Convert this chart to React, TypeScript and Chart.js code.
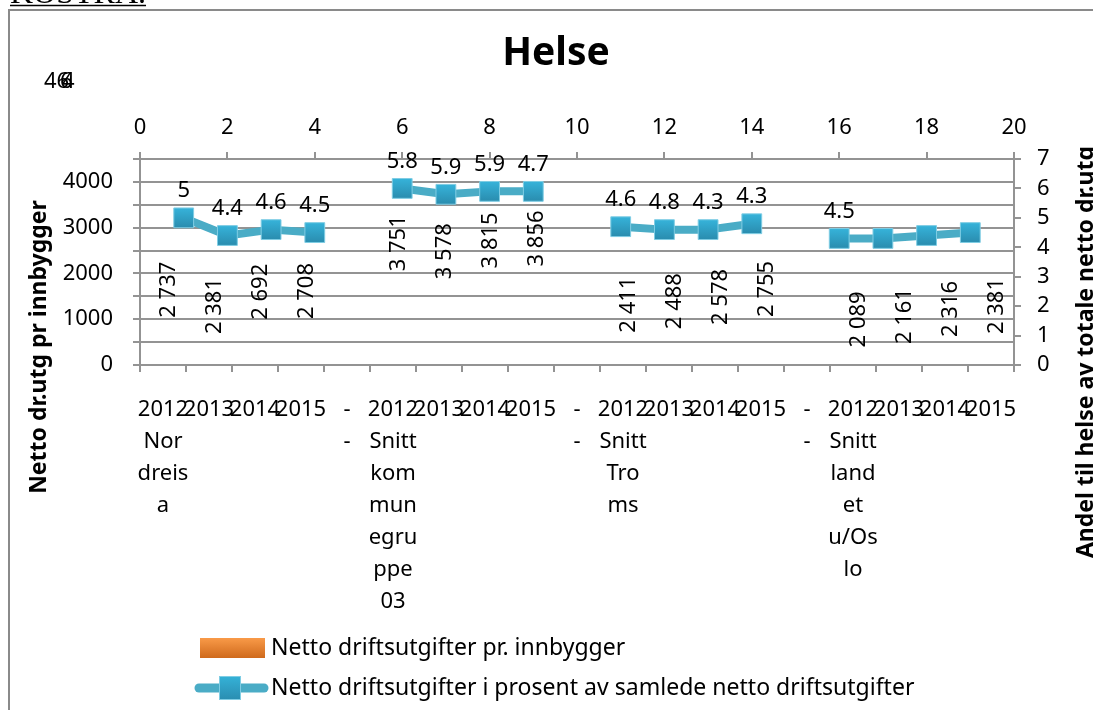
import React, { useEffect, useRef } from "react";
import { Chart, registerables } from "chart.js";

Chart.register(...registerables);

// ---------- data ----------
const categories: string[][] = [
  ["2012", "Nor", "dreis", "a"], ["2013"], ["2014"], ["2015"], ["-", "-"],
  ["2012", "Snitt", "kom", "mun", "egru", "ppe", "03"], ["2013"], ["2014"], ["2015"], ["-", "-"],
  ["2012", "Snitt", "Tro", "ms"], ["2013"], ["2014"], ["2015"], ["-", "-"],
  ["2012", "Snitt", "land", "et", "u/Os", "lo"], ["2013"], ["2014"], ["2015"],
];
const perCapita: (number | null)[] = [
  2737, 2381, 2692, 2708, null,
  3751, 3578, 3815, 3856, null,
  2411, 2488, 2578, 2755, null,
  2089, 2161, 2316, 2381,
];
const percentX: number[] = [1, 2, 3, 4, 5, 6, 7, 8, 9, 10, 11, 12, 13, 14, 15, 16, 17, 18, 19];
const percentValues: (number | null)[] = [
  5.0, 4.4, 4.6, 4.5, null,
  6.0, 5.8, 5.9, 5.9, null,
  4.7, 4.6, 4.6, 4.8, null,
  4.3, 4.3, 4.4, 4.5,
];
const percentLabels: (string | null)[] = [
  "5", "4.4", "4.6", "4.5", null,
  "5.8", "5.9", "5.9", "4.7", null,
  "4.6", "4.8", "4.3", "4.3", null,
  "4.5", null, null, null,
];
const strayLabels: string[] = ["46", "6", "4"];
const titleText = "Helse";
const leftTitle = "Netto dr.utg pr innbygger";
const rightTitle = "Andel til helse av totale netto dr.utg";
const headerText = "KOSTRA.";
const seriesBarLabel = "Netto driftsutgifter pr. innbygger";
const seriesLineLabel = "Netto driftsutgifter i prosent av samlede netto driftsutgifter";

const FAMILY = "'Noto Sans', 'Open Sans', sans-serif";
const GRID = "#939393";
const LINE = "#4aacc6";

function fmt(v: number): string {
  return String(v).replace(/\B(?=(\d{3})+(?!\d))/g, " ");
}

const extrasPlugin = {
  id: "extras",
  afterDatasetsDraw(chart: any) {
    const ctx = chart.ctx;
    ctx.save();
    ctx.fillStyle = "#000";
    ctx.font = `22px ${FAMILY}`;
    // bar labels (rotated)
    const barMeta = chart.getDatasetMeta(0);
    barMeta.data.forEach((el: any, i: number) => {
      const v = perCapita[i];
      if (v == null || !isFinite(el.y)) return;
      ctx.save();
      ctx.translate(el.x + 21, el.y + 50);
      ctx.rotate(-Math.PI / 2);
      ctx.textAlign = "center";
      ctx.textBaseline = "alphabetic";
      ctx.fillText(fmt(v), 0, 0);
      ctx.restore();
    });
    // line labels
    const lineMeta = chart.getDatasetMeta(1);
    lineMeta.data.forEach((el: any, i: number) => {
      const lab = percentLabels[i];
      if (!lab || !isFinite(el.y)) return;
      ctx.textAlign = "center";
      ctx.textBaseline = "middle";
      ctx.fillText(lab, el.x, el.y - 27);
    });
    ctx.restore();
  },
  afterDraw(chart: any) {
    const ctx = chart.ctx;
    ctx.save();
    // outer frame
    ctx.strokeStyle = "#8a8a8a";
    ctx.lineWidth = 2;
    ctx.beginPath();
    ctx.moveTo(9, 710);
    ctx.lineTo(9, 10);
    ctx.lineTo(1093, 10);
    ctx.stroke();

    // header text, cut off at top
    ctx.fillStyle = "#000";
    ctx.font = `32px 'Liberation Serif', serif`;
    ctx.textAlign = "left";
    ctx.textBaseline = "alphabetic";
    ctx.fillText(headerText, 10, 3);
    const hw = ctx.measureText(headerText).width;
    ctx.strokeStyle = "#000";
    ctx.lineWidth = 1.5;
    ctx.beginPath();
    ctx.moveTo(10, 5.5);
    ctx.lineTo(10 + hw, 5.5);
    ctx.stroke();

    // title
    ctx.font = `bold 39px ${FAMILY}`;
    ctx.textAlign = "center";
    ctx.textBaseline = "middle";
    ctx.fillText(titleText, 556, 54);

    // stray labels
    ctx.font = `22px ${FAMILY}`;
    ctx.textAlign = "left";
    ctx.fillText(strayLabels[0], 44, 82);
    ctx.fillText(strayLabels[1], 60, 82);
    ctx.fillText(strayLabels[2], 62, 82);

    // axis titles
    ctx.font = `bold 23px ${FAMILY}`;
    ctx.textAlign = "center";
    ctx.save();
    ctx.translate(39, 347);
    ctx.rotate(-Math.PI / 2);
    ctx.fillText(leftTitle, 0, 0);
    ctx.restore();
    ctx.save();
    ctx.translate(1086, 352);
    ctx.rotate(-Math.PI / 2);
    ctx.fillText(rightTitle, 0, 0);
    ctx.restore();

    // legend
    const g = ctx.createLinearGradient(0, 638, 0, 658);
    g.addColorStop(0, "#f99a48");
    g.addColorStop(1, "#cf6a1c");
    ctx.fillStyle = g;
    ctx.fillRect(200, 638, 65, 20);
    ctx.strokeStyle = LINE;
    ctx.lineWidth = 9;
    ctx.lineCap = "round";
    ctx.beginPath();
    ctx.moveTo(199, 688);
    ctx.lineTo(264, 688);
    ctx.stroke();
    const g2 = ctx.createLinearGradient(0, 676, 0, 700);
    g2.addColorStop(0, "#35b2d8");
    g2.addColorStop(1, "#2a8db0");
    ctx.fillStyle = g2;
    ctx.fillRect(219, 676, 22, 24);
    ctx.strokeStyle = "#7fcde4";
    ctx.lineWidth = 1;
    ctx.strokeRect(219.5, 676.5, 21, 23);
    ctx.fillStyle = "#000";
    ctx.font = `24px ${FAMILY}`;
    ctx.textAlign = "left";
    ctx.textBaseline = "middle";
    const sx = 0.96;
    ctx.save();
    ctx.translate(271, 648);
    ctx.scale(sx, 1);
    ctx.fillText(chart.data.datasets[0].label, 0, 0);
    ctx.restore();
    ctx.save();
    ctx.translate(271, 688);
    ctx.scale(sx, 1);
    ctx.fillText(chart.data.datasets[1].label, 0, 0);
    ctx.restore();
    ctx.restore();
  },
};

export default function App() {
  const ref = useRef<HTMLCanvasElement | null>(null);
  useEffect(() => {
    if (!ref.current) return;
    Chart.defaults.color = "#000";
    Chart.defaults.font.family = FAMILY;
    const pointFill = (c: any) => {
      const chart = c.chart;
      const el = c.element;
      if (!el || !isFinite(el.y)) return "#2ea2c9";
      const gr = chart.ctx.createLinearGradient(0, el.y - 10, 0, el.y + 10);
      gr.addColorStop(0, "#36b3da");
      gr.addColorStop(1, "#2a8cae");
      return gr;
    };
    const chart = new Chart(ref.current, {
      type: "bar",
      data: {
        labels: categories as any,
        datasets: [
          {
            type: "bar",
            label: seriesBarLabel,
            data: perCapita as any,
            backgroundColor: "rgba(0,0,0,0)",
            borderWidth: 0,
            xAxisID: "x",
            yAxisID: "y",
            order: 2,
          } as any,
          {
            type: "line",
            label: seriesLineLabel,
            data: percentX.map((x, i) => ({ x, y: percentValues[i] })) as any,
            xAxisID: "x2",
            yAxisID: "y2",
            borderColor: LINE,
            borderWidth: 8,
            borderJoinStyle: "round",
            borderCapStyle: "round",
            pointStyle: "rect",
            pointRadius: 14,
            pointHoverRadius: 14,
            pointBackgroundColor: pointFill,
            pointBorderColor: "#7fcde4",
            pointBorderWidth: 1,
            spanGaps: false,
            tension: 0,
            order: 1,
          } as any,
        ],
      },
      options: {
        responsive: false,
        animation: false,
        events: [],
        layout: { padding: 0 },
        plugins: {
          legend: { display: false },
          title: { display: false },
          tooltip: { enabled: false },
        },
        scales: {
          x: {
            type: "category",
            position: "bottom",
            offset: true,
            grid: { drawOnChartArea: false, drawTicks: true, tickLength: 7, color: GRID, lineWidth: 2, offset: true },
            border: { color: GRID, width: 2 },
            ticks: {
              autoSkip: false,
              maxRotation: 0,
              minRotation: 0,
              padding: 22,
              color: "#000",
              font: { size: 22, lineHeight: 32 / 22, family: FAMILY },
            },
            afterFit: (s: any) => { s.height = 710 - 365; },
          },
          x2: {
            type: "linear",
            position: "top",
            min: 0,
            max: 20,
            offset: false,
            grid: { drawOnChartArea: false, tickLength: 7, color: GRID, lineWidth: 2, offset: false },
            border: { color: GRID, width: 2 },
            ticks: { stepSize: 2, autoSkip: false, maxRotation: 0, padding: 11, color: "#000", font: { size: 22, family: FAMILY } },
            afterFit: (s: any) => { s.height = 159; },
          },
          y: {
            type: "linear",
            position: "left",
            min: 0,
            max: 4500,
            grid: { color: GRID, lineWidth: 2, tickLength: 7 },
            border: { color: GRID, width: 2 },
            ticks: {
              stepSize: 500,
              autoSkip: false,
              padding: 20,
              color: "#000",
              font: { size: 22, family: FAMILY },
              callback: (v: any) => (Number(v) % 1000 === 0 ? String(v) : ""),
            },
            afterFit: (s: any) => { s.width = 140; },
          },
          y2: {
            type: "linear",
            position: "right",
            min: 0,
            max: 7,
            grid: { drawOnChartArea: false, tickLength: 7, color: GRID, lineWidth: 2 },
            border: { color: GRID, width: 2 },
            ticks: { stepSize: 1, autoSkip: false, padding: 16, color: "#000", font: { size: 22, family: FAMILY } },
            afterFit: (s: any) => { s.width = 1093 - 1014; },
          },
        },
      } as any,
      plugins: [extrasPlugin],
    });
    return () => chart.destroy();
  }, []);
  return (
    <div style={{ position: "fixed", left: 0, top: 0, width: 1093, height: 710, background: "#fff", overflow: "hidden" }}>
      <canvas ref={ref} width={1093} height={710} style={{ display: "block" }} />
    </div>
  );
}
